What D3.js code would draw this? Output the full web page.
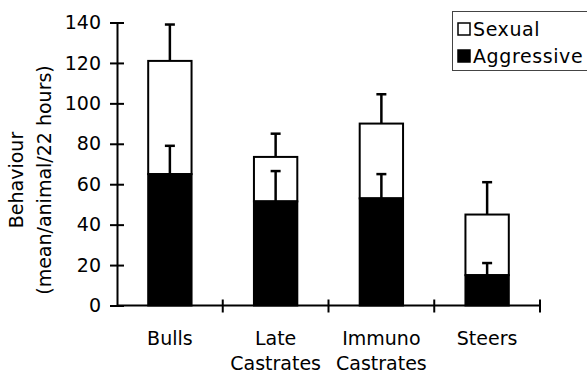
<!DOCTYPE html>
<html>
<head>
<meta charset="utf-8">
<script src="https://cdn.jsdelivr.net/npm/d3@7"></script>
<style>
  body { margin: 0; background: #fff; }
  svg { display: block; font-family: "DejaVu Sans", sans-serif; }
</style>
</head>
<body>
<div id="chart"></div>
<script>
// categories (two-line labels where needed)
const categories = ["Bulls", "Late Castrates", "Immuno Castrates", "Steers"];
const catLines = [["Bulls"], ["Late", "Castrates"], ["Immuno", "Castrates"], ["Steers"]];
// stacked means: aggressive at bottom, sexual on top
const aggressive = [65, 51.5, 53, 15];
const sexual = [56, 22, 37, 30];
// error bar size (added on top of each segment)
const aggressiveErr = [14, 15, 12, 6];
const sexualErr = [18, 11.5, 14.5, 16];
const yTicks = [0, 20, 40, 60, 80, 100, 120, 140];

const width = 587, height = 373;
const fs = 19;
const svg = d3.select("#chart").append("svg")
  .attr("width", width).attr("height", height);

const x = d3.scaleBand().domain(categories).range([117, 540]);
const y = d3.scaleLinear().domain([0, 140]).range([305.5, 22.5]);
const barW = x.bandwidth() * 0.41;

// bars
const g = svg.append("g");
categories.forEach((c, i) => {
  const cx = x(c) + x.bandwidth() / 2;
  const total = aggressive[i] + sexual[i];
  // sexual (white) segment
  g.append("rect")
    .attr("x", cx - barW / 2).attr("y", y(total))
    .attr("width", barW).attr("height", y(aggressive[i]) - y(total))
    .attr("fill", "#fff").attr("stroke", "#000").attr("stroke-width", 2);
  // aggressive (black) segment
  g.append("rect")
    .attr("x", cx - barW / 2).attr("y", y(aggressive[i]))
    .attr("width", barW).attr("height", y(0) - y(aggressive[i]))
    .attr("fill", "#000").attr("stroke", "#000").attr("stroke-width", 2);

  // error bars
  [[aggressive[i], aggressiveErr[i]], [total, sexualErr[i]]].forEach(([v, e]) => {
    g.append("line")
      .attr("x1", cx).attr("x2", cx)
      .attr("y1", y(v)).attr("y2", y(v + e))
      .attr("stroke", "#000").attr("stroke-width", 2.5);
    g.append("line")
      .attr("x1", cx - 5).attr("x2", cx + 5)
      .attr("y1", y(v + e)).attr("y2", y(v + e))
      .attr("stroke", "#000").attr("stroke-width", 2.5);
  });
});

// y axis
const yAxis = svg.append("g")
  .attr("transform", "translate(117,0)")
  .call(d3.axisLeft(y).tickValues(yTicks).tickSizeInner(7).tickSizeOuter(0).tickPadding(9));
yAxis.select(".domain").attr("stroke-width", 2);
yAxis.selectAll(".tick line").attr("x1", 7).attr("stroke-width", 2);
yAxis.selectAll(".tick text")
  .attr("font-size", fs).attr("font-family", "DejaVu Sans, sans-serif").attr("fill", "#000");

// x axis with crossing ticks at band boundaries
const xAxis = svg.append("g");
xAxis.append("line")
  .attr("x1", 117).attr("x2", 540)
  .attr("y1", y(0)).attr("y2", y(0))
  .attr("stroke", "#000").attr("stroke-width", 2);
categories.forEach(c => {
  const bx = x(c) + x.bandwidth();
  xAxis.append("line")
    .attr("x1", bx).attr("x2", bx)
    .attr("y1", y(0) - 6).attr("y2", y(0) + 7)
    .attr("stroke", "#000").attr("stroke-width", 2);
});

// category labels
categories.forEach((c, i) => {
  const t = svg.append("text")
    .attr("x", x(c) + x.bandwidth() / 2)
    .attr("y", 345)
    .attr("text-anchor", "middle")
    .attr("font-size", fs);
  catLines[i].forEach((s, k) => {
    t.append("tspan").attr("x", x(c) + x.bandwidth() / 2).attr("dy", k ? 25 : 0).text(s);
  });
});

// y axis title
svg.append("text")
  .attr("transform", "translate(23,180) rotate(-90)")
  .attr("text-anchor", "middle").attr("font-size", fs)
  .text("Behaviour");
svg.append("text")
  .attr("transform", "translate(51,180) rotate(-90)")
  .attr("text-anchor", "middle").attr("font-size", fs)
  .text("(mean/animal/22 hours)");

// legend
const legend = svg.append("g");
legend.append("rect")
  .attr("x", 452.5).attr("y", 11.5).attr("width", 140).attr("height", 59)
  .attr("fill", "#fff").attr("stroke", "#444").attr("stroke-width", 1);
const legendItems = [["Sexual", "#fff"], ["Aggressive", "#000"]];
legendItems.forEach(([name, col], i) => {
  legend.append("rect")
    .attr("x", 458).attr("y", 23 + i * 27)
    .attr("width", 12).attr("height", 12)
    .attr("fill", col).attr("stroke", "#000").attr("stroke-width", 1.5);
  legend.append("text")
    .attr("x", 473).attr("y", 36 + i * 27)
    .attr("font-size", fs)
    .attr("letter-spacing", 0.6)
    .text(name);
});
</script>
</body>
</html>
